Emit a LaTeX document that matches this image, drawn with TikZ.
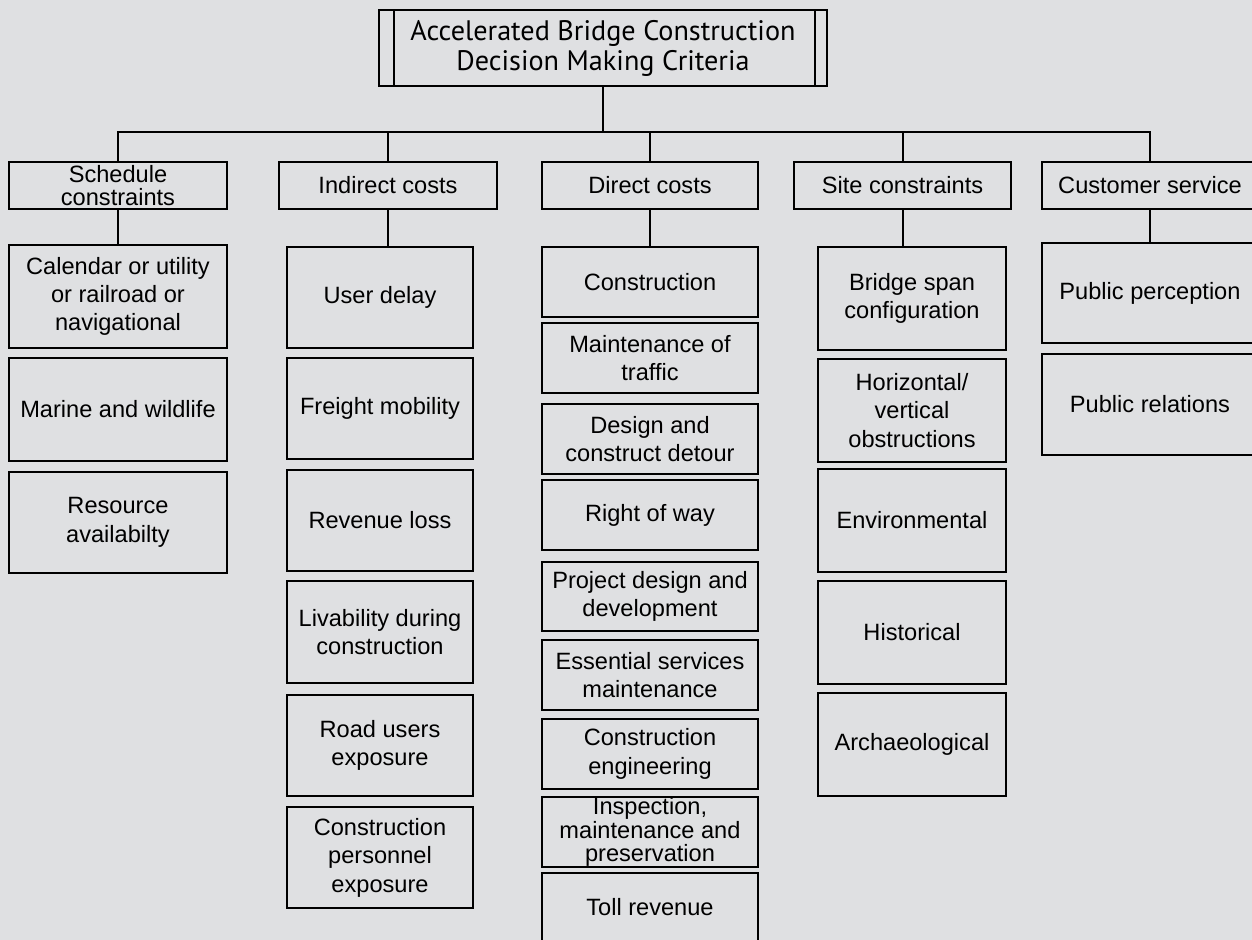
\documentclass[tikz,border=0pt]{standalone}
\usepackage{fontspec}
\setmainfont{Liberation Sans}
\newfontfamily\titlefont{PT Sans}
\definecolor{bg}{RGB}{223,224,226}
\tikzset{
  box/.style={draw=black, line width=1pt, fill=bg, rectangle, inner sep=0pt, outer sep=0pt, align=center, font=\fontsize{11.8}{14.2}\selectfont},
  tight/.style={font=\fontsize{11.8}{11.6}\selectfont},
  ttl/.style={font=\titlefont\fontsize{14.1}{15}\selectfont},
  link/.style={draw=black, line width=1pt}
}
\newcommand{\bx}[7][]{\node[box,#1,minimum width={(#5-#3)*0.5pt},minimum height={(#6-#4)*0.5pt}] (#2) at ({(#3+#5)/2},{(#4+#6)/2}) {#7};}
\begin{document}
\begin{tikzpicture}[x=0.5pt,y=-0.5pt]
\fill[bg] (0,0) rectangle (1252,940);
\clip (0,0) rectangle (1252,940);
% title
\bx[ttl]{title}{379}{10}{827}{86}{Accelerated Bridge Construction\\Decision Making Criteria}
\draw[link] ([xshift=7.3pt]title.north west) -- ([xshift=7.3pt]title.south west);
\draw[link] ([xshift=-5.8pt]title.north east) -- ([xshift=-5.8pt]title.south east);
\coordinate (bar) at (603,132);
% headers
\bx[tight]{h1}{9}{162}{227}{209}{Schedule\\constraints}
\bx{h2}{279}{162}{497}{209}{Indirect costs}
\bx{h3}{542}{162}{758}{209}{Direct costs}
\bx{h4}{794}{162}{1011}{209}{Site constraints}
\bx{h5}{1042}{162}{1258}{209}{Customer service}
% column 1
\bx{a1}{9}{245}{227}{348}{Calendar or utility\\or railroad or\\navigational}
\bx{a2}{9}{358}{227}{461}{Marine and wildlife}
\bx{a3}{9}{472}{227}{573}{Resource\\availabilty}
% column 2
\bx{b1}{287}{247}{473}{348}{User delay}
\bx{b2}{287}{358}{473}{459}{Freight mobility}
\bx{b3}{287}{470}{473}{571}{Revenue loss}
\bx{b4}{287}{581}{473}{683}{Livability during\\construction}
\bx{b5}{287}{695}{473}{796}{Road users\\exposure}
\bx{b6}{287}{807}{473}{908}{Construction\\personnel\\exposure}
% column 3
\bx{c1}{542}{247}{758}{317}{Construction}
\bx{c2}{542}{323}{758}{393}{Maintenance of\\traffic}
\bx{c3}{542}{404}{758}{474}{Design and\\construct detour}
\bx{c4}{542}{480}{758}{550}{Right of way}
\bx{c5}{542}{562}{758}{631}{Project design and\\development}
\bx{c6}{542}{640}{758}{710}{Essential services\\maintenance}
\bx{c7}{542}{719}{758}{789}{Construction\\engineering}
\bx[tight]{c8}{542}{797}{758}{867}{Inspection,\\maintenance and\\preservation}
\bx{c9}{542}{873}{758}{942}{Toll revenue}
% column 4
\bx{d1}{818}{247}{1006}{350}{Bridge span\\configuration}
\bx{d2}{818}{359}{1006}{462}{Horizontal/\\vertical\\obstructions}
\bx{d3}{818}{469}{1006}{572}{Environmental}
\bx{d4}{818}{581}{1006}{684}{Historical}
\bx{d5}{818}{693}{1006}{796}{Archaeological}
% column 5
\bx{e1}{1042}{243}{1258}{343}{Public perception}
\bx{e2}{1042}{354}{1258}{455}{Public relations}
% connectors
\draw[link] (title.south) -- (bar);
\foreach \h in {h1,h2,h3,h4,h5} { \draw[link] (\h.north) |- (bar); }
\draw[link] (h1.south) -- (h1.south |- a1.north);
\draw[link] (h2.south) -- (h2.south |- b1.north);
\draw[link] (h3.south) -- (h3.south |- c1.north);
\draw[link] (h4.south) -- (h4.south |- d1.north);
\draw[link] (h5.south) -- (h5.south |- e1.north);
\end{tikzpicture}
\end{document}
